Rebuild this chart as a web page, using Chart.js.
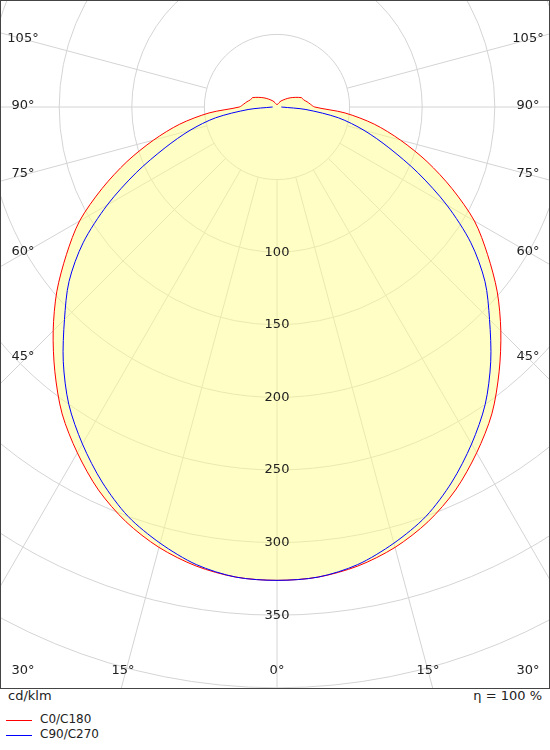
<!DOCTYPE html>
<html>
<head>
<meta charset="utf-8">
<script src="https://cdn.jsdelivr.net/npm/chart.js@4.4.0/dist/chart.umd.min.js"></script>
<style>
  body { margin: 0; background: #fff; font-family: "DejaVu Sans", Verdana, sans-serif; color: #222; }
  #frame { position: absolute; left: 0; top: 0; width: 548px; height: 687px; border: 1px solid #444; }
  #box { position: absolute; left: 0; top: 0; width: 548px; height: 687px; }
  .txt { position: absolute; font-size: 13px; }
  .leg { position: absolute; left: 6px; width: 26px; height: 1px; }
</style>
</head>
<body>
<div id="frame"><div id="box"><canvas id="diagram"></canvas></div></div>
<div class="txt" style="left:8px; top:688px;">cd/klm</div>
<div class="txt" style="right:8px; top:688px;">η = 100 %</div>
<div class="leg" style="top:720px; background:#f00;"></div>
<div class="txt" style="left:40px; top:712px; font-size:12px;">C0/C180</div>
<div class="leg" style="top:735px; background:#00f;"></div>
<div class="txt" style="left:40px; top:727px; font-size:12px;">C90/C270</div>
<script>
"use strict";

// gamma angles (deg from nadir) and intensities in cd/klm
const anglesC0 = [0, 5, 10, 15, 20, 25, 30, 35, 40, 45, 50, 55, 60, 65, 70, 75, 80, 85, 90, 95, 100, 105, 111, 125, 146, 180];
const valuesC0 = [326, 325, 321, 314, 304, 291, 275, 258, 238, 218, 198, 177, 157, 133, 110, 88, 68, 47, 26, 23, 21, 19, 18, 11, 5, 1.5];
const anglesC90 = [0, 5, 10, 15, 20, 25, 30, 35, 40, 45, 50, 55, 60, 65, 70, 75, 80, 85, 90];
const valuesC90 = [326, 325, 320, 311, 300, 285, 268, 250, 229, 207, 187, 163, 135, 107, 82, 62, 43, 20, 3];
const ringValues = [50, 100, 150, 200, 250, 300, 350, 400, 450, 500, 550, 600];
const ringLabels = [100, 150, 200, 250, 300, 350];

const PX = 1.452, CX = 276, CY = 106, W = 548, H = 687;

function toXY(angles, values) {
  const pts = [];
  for (let i = angles.length - 1; i >= 0; i--) {
    const a = angles[i] * Math.PI / 180;
    pts.push({ x: -values[i] * Math.sin(a), y: -values[i] * Math.cos(a) });
  }
  for (let i = 1; i < angles.length; i++) {
    const a = angles[i] * Math.PI / 180;
    pts.push({ x: values[i] * Math.sin(a), y: -values[i] * Math.cos(a) });
  }
  return pts;
}

const polarGrid = {
  id: "polarGrid",
  beforeDatasetsDraw(chart) {
    const { ctx, scales } = chart;
    const ox = scales.x.getPixelForValue(0), oy = scales.y.getPixelForValue(0);
    const k = scales.x.getPixelForValue(100) - ox;
    ctx.save();
    ctx.strokeStyle = "#d4d4d4";
    ctx.lineWidth = 1;
    ringValues.forEach((v) => {
      ctx.beginPath();
      ctx.arc(ox, oy, v * k / 100, 0, Math.PI * 2);
      ctx.stroke();
    });
    for (let g = -105; g <= 105; g += 15) {
      const a = g * Math.PI / 180;
      ctx.beginPath();
      ctx.moveTo(ox + Math.sin(a) * 50 * k / 100, oy + Math.cos(a) * 50 * k / 100);
      ctx.lineTo(ox + Math.sin(a) * 1500, oy + Math.cos(a) * 1500);
      ctx.stroke();
    }
    ctx.restore();
  },
  afterDraw(chart) {
    const { ctx, scales } = chart;
    const ox = scales.x.getPixelForValue(0);
    ctx.save();
    ctx.fillStyle = "#222";
    ctx.font = '13px "DejaVu Sans"';
    ctx.textAlign = "center";
    ctx.textBaseline = "middle";
    ringLabels.forEach((v) => {
      ctx.fillText(String(v), ox, scales.y.getPixelForValue(-v));
    });
    const side = [["105°", 38], ["90°", 105], ["75°", 173], ["60°", 251], ["45°", 356]];
    side.forEach(([t, y]) => {
      ctx.fillText(t, 22, y);
      ctx.fillText(t, 527, y);
    });
    [["30°", 22], ["15°", 122], ["0°", ox], ["15°", 427], ["30°", 527]].forEach(([t, x]) => {
      ctx.fillText(t, x, 670);
    });
    ctx.restore();
  },
};

const ctx = document.getElementById("diagram").getContext("2d");
new Chart(ctx, {
  type: "scatter",
  data: {
    datasets: [
      {
        label: "C90/C270",
        data: toXY(anglesC90, valuesC90),
        showLine: true,
        tension: 0.3,
        borderColor: "#0000ff",
        borderWidth: 1,
        pointRadius: 0,
        fill: false,
        order: 0,
      },
      {
        label: "C0/C180",
        data: toXY(anglesC0, valuesC0),
        showLine: true,
        tension: 0.3,
        borderColor: "#ff0000",
        backgroundColor: "rgba(255, 255, 140, 0.5)",
        borderWidth: 1,
        pointRadius: 0,
        fill: "shape",
        order: 1,
      },
    ],
  },
  options: {
    responsive: true,
    maintainAspectRatio: false,
    animation: false,
    layout: { padding: 0 },
    plugins: { legend: { display: false }, tooltip: { enabled: false } },
    scales: {
      x: { type: "linear", display: false, min: -CX / PX, max: (W - CX) / PX },
      y: { type: "linear", display: false, min: -(H - CY) / PX, max: CY / PX },
    },
  },
  plugins: [polarGrid],
});
</script>
</body>
</html>
